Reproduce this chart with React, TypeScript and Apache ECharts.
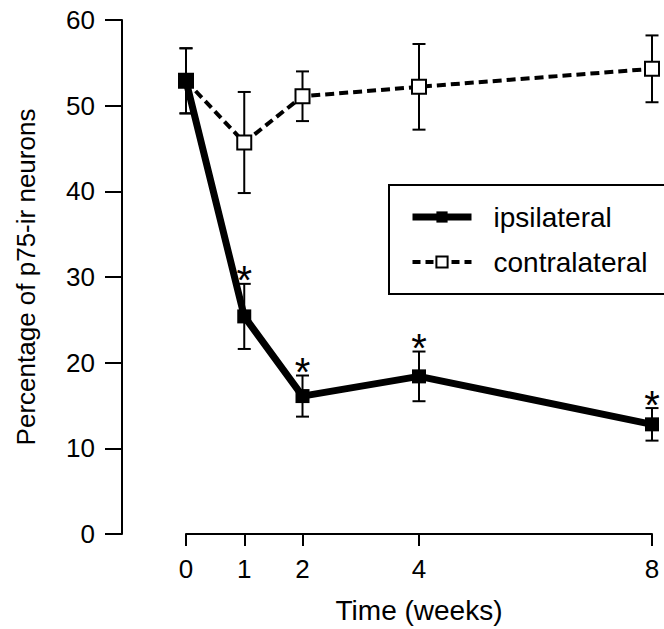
import React, { useEffect, useRef } from "react";
import * as echarts from "echarts";

const weeks = [0, 1, 2, 4, 8];
const xTicks = [0, 1, 2, 4, 8];
const ipsilateral = [52.9, 25.4, 16.1, 18.4, 12.8];
const ipsilateralErr = [3.8, 3.8, 2.4, 2.9, 1.9];
const contralateral = [52.9, 45.7, 51.1, 52.2, 54.3];
const contralateralErr = [3.8, 5.9, 2.9, 5.0, 3.9];
const significantWeeks = [1, 2, 4, 8];

const FONT = "'Liberation Sans', Arial, Helvetica, sans-serif";

export default function App() {
  const ref = useRef<HTMLDivElement>(null);
  useEffect(() => {
    if (!ref.current) return;
    const chart = echarts.init(ref.current, undefined, { renderer: "svg" });

    const errData = (vals: number[], errs: number[]) =>
      weeks.map((w, i) => [w, vals[i] - errs[i], vals[i] + errs[i]]);

    const errRender = (params: any, api: any) => {
      const x = api.value(0);
      const lo = api.coord([x, api.value(1)]);
      const hi = api.coord([x, api.value(2)]);
      const hw = 6.5;
      const st = { stroke: "#000", lineWidth: 2 };
      return {
        type: "group",
        children: [
          { type: "line", shape: { x1: lo[0], y1: lo[1], x2: hi[0], y2: hi[1] }, style: st },
          { type: "line", shape: { x1: lo[0] - hw, y1: lo[1], x2: lo[0] + hw, y2: lo[1] }, style: st },
          { type: "line", shape: { x1: hi[0] - hw, y1: hi[1], x2: hi[0] + hw, y2: hi[1] }, style: st },
        ],
      };
    };

    const starData = significantWeeks.map((w) => {
      const i = weeks.indexOf(w);
      return [w, ipsilateral[i] + ipsilateralErr[i]];
    });

    chart.setOption({
      animation: false,
      backgroundColor: "#fff",
      textStyle: { fontFamily: FONT, color: "#000" },
      grid: { left: 186, right: 12, top: 20, bottom: 94, containLabel: false },
      legend: {
        orient: "vertical",
        left: 389,
        top: 185,
        data: [
          { name: "ipsilateral", lineStyle: { width: 7, color: "#000", type: "solid" } },
          { name: "contralateral", lineStyle: { width: 4, color: "#000", type: [8, 5] } },
        ],
        padding: [18, 60, 18, 20],
        itemGap: 17,
        itemWidth: 59,
        itemHeight: 14,
        borderColor: "#000",
        borderWidth: 2,
        textStyle: { fontSize: 28, color: "#000", fontFamily: FONT, padding: [0, 0, 0, 17] },
      },
      xAxis: {
        type: "value",
        min: 0,
        max: 8,
        interval: 1,
        name: "Time (weeks)",
        nameLocation: "middle",
        nameGap: 62,
        nameTextStyle: { fontSize: 28, color: "#000", fontFamily: FONT },
        axisLine: { onZero: false, lineStyle: { color: "#000", width: 2 } },
        axisTick: { length: 12, lineStyle: { color: "#000", width: 2 }, customValues: xTicks },
        axisLabel: { fontSize: 26, color: "#000", margin: 22, fontFamily: FONT, customValues: xTicks },
        splitLine: { show: false },
      },
      yAxis: {
        type: "value",
        min: 0,
        max: 60,
        interval: 10,
        position: "left",
        offset: 64,
        name: "Percentage of p75-ir neurons",
        nameLocation: "middle",
        nameGap: 83,
        nameTextStyle: { fontSize: 26, color: "#000", fontFamily: FONT },
        axisLine: { show: true, onZero: false, lineStyle: { color: "#000", width: 2 } },
        axisTick: { show: true, length: 17, lineStyle: { color: "#000", width: 2 } },
        axisLabel: { fontSize: 26, color: "#000", margin: 27, fontFamily: FONT },
        splitLine: { show: false },
      },
      series: [
        {
          type: "custom",
          name: "contraErr",
          renderItem: errRender,
          data: errData(contralateral, contralateralErr),
          encode: { x: 0, y: [1, 2] },
          z: 1,
          silent: true,
        },
        {
          type: "custom",
          name: "ipsiErr",
          renderItem: errRender,
          data: errData(ipsilateral, ipsilateralErr),
          encode: { x: 0, y: [1, 2] },
          z: 1,
          silent: true,
        },
        {
          type: "line",
          name: "contralateral",
          data: weeks.map((w, i) => [w, contralateral[i]]),
          symbol: "rect",
          symbolSize: 14,
          showAllSymbol: true,
          lineStyle: { color: "#000", width: 4, type: [9, 5] },
          itemStyle: { color: "#fff", borderColor: "#000", borderWidth: 2 },
          z: 3,
        },
        {
          type: "line",
          name: "ipsilateral",
          data: weeks.map((w, i) => [w, ipsilateral[i]]),
          symbol: "rect",
          symbolSize: 14,
          lineStyle: { color: "#000", width: 7 },
          itemStyle: { color: "#000", borderColor: "#000", borderWidth: 0 },
          z: 4,
        },
        {
          type: "custom",
          name: "stars",
          data: starData,
          encode: { x: 0, y: 1 },
          z: 5,
          silent: true,
          renderItem: (params: any, api: any) => {
            const p = api.coord([api.value(0), api.value(1)]);
            return {
              type: "text",
              style: {
                text: "*",
                x: p[0],
                y: p[1] - 3.5,
                align: "center",
                verticalAlign: "middle",
                font: `40px ${FONT}`,
                fill: "#000",
              },
            };
          },
        },
      ],
    });
    return () => chart.dispose();
  }, []);
  return (
    <div
      ref={ref}
      style={{ position: "fixed", left: 0, top: 0, width: 664, height: 629, background: "#fff" }}
    />
  );
}
